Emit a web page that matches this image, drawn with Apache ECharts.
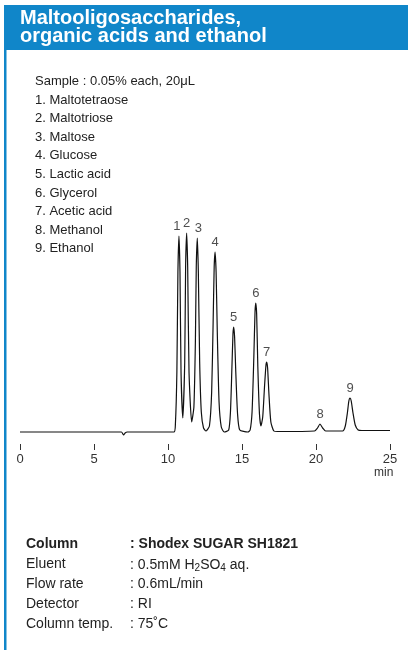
<!DOCTYPE html>
<html lang="en">
<head>
<meta charset="UTF-8">
<title>Maltooligosaccharides, organic acids and ethanol</title>
<script src="https://cdn.jsdelivr.net/npm/echarts@6.0.0/dist/echarts.min.js"></script>
<style>body{margin:0;background:#fff}</style>
</head>
<body>
<div id="main" style="width:408px;height:650px;"></div>
<script type="text/javascript">
// chromatogram trace: [min, signal]
const trace = [
  [0, 0], [6.85, 0], [7.0, -3], [7.1, -1], [7.25, 0], [10.4, 0],
  [10.5, 8], [10.6, 60], [10.67, 160], [10.74, 196], [10.81, 160], [10.88, 60], [11.0, 14],
  [11.13, 70], [11.19, 165], [11.26, 199], [11.33, 165], [11.42, 60], [11.6, 10],
  [11.75, 25], [11.85, 90], [11.91, 165], [11.98, 194], [12.05, 160], [12.14, 70], [12.25, 20], [12.4, 4], [12.57, 1],
  [12.8, 6], [12.95, 40], [13.05, 110], [13.12, 165], [13.18, 180], [13.25, 160], [13.33, 100], [13.45, 30], [13.6, 5], [13.8, 0],
  [14.1, 2], [14.22, 20], [14.32, 65], [14.39, 98], [14.44, 105], [14.5, 95], [14.58, 60], [14.7, 18], [14.85, 2], [15.4, 0],
  [15.55, 2], [15.68, 20], [15.8, 75], [15.88, 120], [15.93, 129], [15.99, 118], [16.07, 65], [16.18, 18], [16.28, 6],
  [16.4, 15], [16.52, 45], [16.62, 67], [16.67, 70], [16.73, 64], [16.82, 38], [16.95, 10], [17.15, 1], [17.4, 0.5],
  [19.9, 1], [20.1, 4], [20.27, 8], [20.45, 4], [20.65, 1],
  [21.8, 1], [21.98, 6], [22.12, 19], [22.22, 31], [22.3, 34], [22.38, 31], [22.5, 19], [22.65, 7], [22.85, 2], [23.1, 1.5], [25, 1.5]
];
const peakNames = ['1', '2', '3', '4', '5', '6', '7', '8', '9'];
const peakTimes = [10.6, 11.26, 12.05, 13.18, 14.44, 15.93, 16.67, 20.27, 22.3];
const peakHeights = [196, 199, 194, 180, 105, 129, 70, 8, 34];
const compounds = ['1. Maltotetraose', '2. Maltotriose', '3. Maltose', '4. Glucose', '5. Lactic acid',
  '6. Glycerol', '7. Acetic acid', '8. Methanol', '9. Ethanol'];
const condKeys = ['Column', 'Eluent', 'Flow rate', 'Detector', 'Column temp.'];
const condVals = [': Shodex SUGAR SH1821', ': 0.5mM H{sub|2}SO{sub|4} aq.', ': 0.6mL/min', ': RI', ': 75\u02DAC'];

const font = 'Liberation Sans, Arial, sans-serif';
const chart = echarts.init(document.getElementById('main'));

const graphic = [
  { type: 'rect', shape: { x: 4, y: 5, width: 404, height: 45 }, style: { fill: '#1086c9' } },
  { type: 'rect', shape: { x: 4, y: 5, width: 2.5, height: 645 }, style: { fill: '#1086c9' } },
  { type: 'text', x: 20, y: 9, style: { text: 'Maltooligosaccharides,\norganic acids and ethanol', fill: '#fff',
    font: 'bold 20px ' + font, lineHeight: 18 } },
  { type: 'text', x: 35, y: 75, style: { text: 'Sample : 0.05% each, 20\u03bcL', fill: '#222', font: '13px ' + font } }
];
compounds.forEach((c, i) => {
  graphic.push({ type: 'text', x: 35, y: 93.5 + i * 18.6, style: { text: c, fill: '#222', font: '13px ' + font } });
});
condKeys.forEach((k, i) => {
  const bold = i === 0 ? 'bold ' : '';
  graphic.push({ type: 'text', x: 26, y: 537 + i * 20, style: { text: k, fill: '#222', font: bold + '14px ' + font } });
  graphic.push({ type: 'text', x: 130, y: 537 + i * 20, style: { text: condVals[i], fill: '#222', font: bold + '14px ' + font,
    rich: { sub: { fontSize: 10, verticalAlign: 'bottom', padding: [6, 0, 0, 0], fill: '#222' } } } });
});
graphic.push({ type: 'text', x: 374, y: 467, style: { text: 'min', fill: '#333', font: '12px ' + font } });

chart.setOption({
  animation: false,
  graphic: graphic,
  grid: { left: 20, right: 18, top: 200, bottom: 206 },
  xAxis: {
    type: 'value', min: 0, max: 25, interval: 5,
    axisLine: { show: false, onZero: false },
    axisTick: { show: true, inside: false, length: 6, lineStyle: { color: '#333' } },
    axisLabel: { margin: 9, fontSize: 13, color: '#333', fontFamily: font },
    splitLine: { show: false }
  },
  yAxis: { type: 'value', min: -12, max: 232, show: false },
  series: [
    {
      type: 'line', data: trace, showSymbol: false, smooth: 0.2,
      lineStyle: { color: '#111', width: 1.2 }
    },
    {
      type: 'scatter', symbolSize: 0,
      data: peakTimes.map((t, i) => ({ value: [t, peakHeights[i]], name: peakNames[i] })),
      label: { show: true, position: 'top', distance: 3, formatter: p => p.name,
        fontSize: 13, color: '#222', fontFamily: font }
    }
  ]
});
</script>
</body>
</html>
